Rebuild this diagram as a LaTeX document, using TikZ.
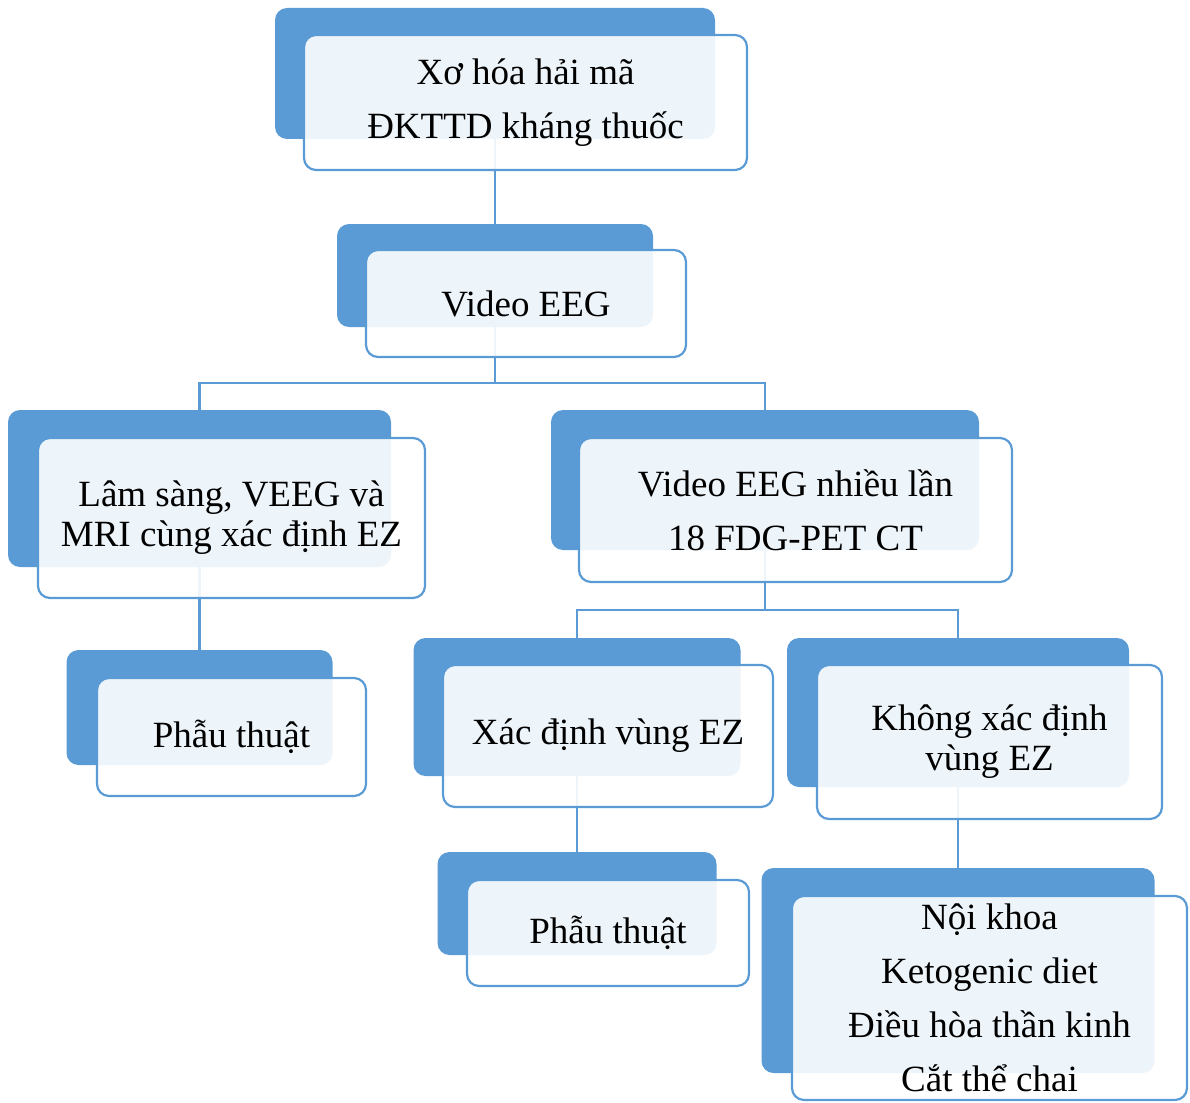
\documentclass[tikz,border=0pt]{standalone}
\usepackage{fontspec}
\setmainfont{Liberation Serif}
\usepackage{tikz}
\usetikzlibrary{backgrounds}
\usepackage{xcolor}
\definecolor{boxblue}{RGB}{91,155,213}

\tikzset{
  backbox/.style={fill=boxblue,rounded corners=12pt,inner sep=0pt},
  frontbox/.style={draw=boxblue,line width=2.2pt,fill=white,fill opacity=0.9,
    text opacity=1,rounded corners=12pt,inner sep=0pt,align=center,
    font=\fontsize{37}{54}\selectfont},
  tight/.style={font=\fontsize{37}{40}\selectfont},
  link/.style={draw=boxblue,line width=2.2pt}
}

\begin{document}
\begin{tikzpicture}[x=1pt,y=-1pt]
        \useasboundingbox (0,0) rectangle (1190,1102);

        \node[backbox,minimum width=440,minimum height=131] (rootB) at (495,73.5) {};
        \node[frontbox,minimum width=443,minimum height=135] (root) at (525.5,102.5)
          {Xơ hóa hải mã\\ĐKTTD kháng thuốc};

        \node[backbox,minimum width=316,minimum height=103] (vidB) at (495,275.5) {};
        \node[frontbox,minimum width=320,minimum height=107] (vid) at (526,303.5)
          {Video EEG};

        \node[backbox,minimum width=383,minimum height=157] (lamB) at (199.5,488.5) {};
        \node[frontbox,tight,minimum width=387,minimum height=160] (lam) at (231.5,518)
          {Lâm sàng, VEEG và\\MRI cùng xác định EZ};

        \node[backbox,minimum width=428,minimum height=140] (multB) at (765,480) {};
        \node[frontbox,minimum width=433,minimum height=144] (mult) at (795.5,510)
          {Video EEG nhiều lần\\18 FDG-PET CT};

        \node[backbox,minimum width=266,minimum height=115] (surgAB) at (199.5,707.5) {};
        \node[frontbox,minimum width=269,minimum height=118] (surgA) at (231.5,737)
          {Phẫu thuật};

        \node[backbox,minimum width=327,minimum height=138] (ezB) at (577,707) {};
        \node[frontbox,minimum width=330,minimum height=142] (ez) at (608,736)
          {Xác định vùng EZ};

        \node[backbox,minimum width=342,minimum height=149] (noezB) at (958,712.5) {};
        \node[frontbox,tight,minimum width=345,minimum height=154] (noez) at (989.5,742)
          {Không xác định\\vùng EZ};

        \node[backbox,minimum width=279,minimum height=103] (surgBB) at (577,903.5) {};
        \node[frontbox,minimum width=282,minimum height=106] (surgB) at (608,933)
          {Phẫu thuật};

        \node[backbox,minimum width=393,minimum height=205] (medB) at (958,970.5) {};
        \node[frontbox,minimum width=395,minimum height=204] (med) at (989.5,998)
          {Nội khoa\\Ketogenic diet\\Điều hòa thần kinh\\Cắt thể chai};

        \begin{scope}[on background layer]
          \draw[link] (rootB.south) -- (vidB.north);
          \draw[link] (vidB.south) -- ++(0,56) -| (lamB.north);
          \draw[link] (vidB.south) -- ++(0,56) -| (multB.north);
          \draw[link] (lamB.south) -- (surgAB.north);
          \draw[link] (multB.south) -- ++(0,60) -| (ezB.north);
          \draw[link] (multB.south) -- ++(0,60) -| (noezB.north);
          \draw[link] (ezB.south) -- (surgBB.north);
          \draw[link] (noezB.south) -- (medB.north);
        \end{scope}
      \end{tikzpicture}
\end{document}
